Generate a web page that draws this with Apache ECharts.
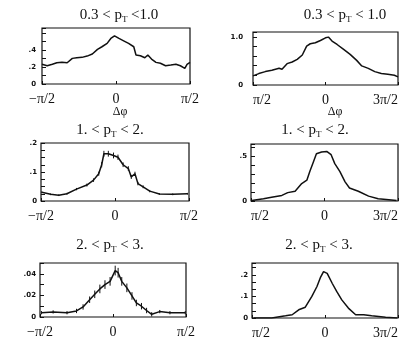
<!DOCTYPE html>
<html>
<head>
<meta charset="utf-8">
<script src="https://cdn.jsdelivr.net/npm/echarts@6/dist/echarts.min.js"></script>
<style>
html, body { margin: 0; background: #fff; }
#main { width: 415px; height: 346px; }
</style>
</head>
<body>
<div id="main"></div>
<script>
// x positions are in units of pi/2 (-1 .. 1)
var x1 = [-1.0, -0.93, -0.86, -0.80, -0.73, -0.66, -0.59, -0.53, -0.46, -0.39, -0.32, -0.25, -0.19, -0.12, -0.07, -0.02, 0.04, 0.11, 0.17, 0.24, 0.27, 0.33, 0.39, 0.43, 0.48, 0.54, 0.60, 0.67, 0.74, 0.81, 0.87, 0.93, 0.96, 1.0];
var y1 = [0.232, 0.215, 0.232, 0.25, 0.255, 0.25, 0.302, 0.309, 0.314, 0.329, 0.353, 0.408, 0.439, 0.479, 0.537, 0.568, 0.537, 0.506, 0.479, 0.439, 0.341, 0.333, 0.309, 0.341, 0.294, 0.255, 0.244, 0.215, 0.223, 0.232, 0.215, 0.185, 0.232, 0.255];

var x2 = [-1.0, -0.92, -0.83, -0.74, -0.64, -0.60, -0.53, -0.46, -0.39, -0.32, -0.26, -0.21, -0.14, -0.07, 0.0, 0.04, 0.09, 0.16, 0.25, 0.34, 0.43, 0.50, 0.59, 0.68, 0.77, 0.86, 0.95, 1.0];
var y2 = [0.19, 0.237, 0.278, 0.305, 0.346, 0.326, 0.443, 0.478, 0.532, 0.623, 0.808, 0.856, 0.876, 0.924, 0.979, 0.994, 0.911, 0.841, 0.738, 0.635, 0.511, 0.396, 0.346, 0.278, 0.237, 0.223, 0.202, 0.169];

var x3 = [-0.99, -0.87, -0.76, -0.65, -0.52, -0.38, -0.29, -0.22, -0.18, -0.15, -0.09, -0.02, 0.04, 0.11, 0.18, 0.22, 0.27, 0.31, 0.38, 0.47, 0.60, 0.78, 0.98];
var y3 = [0.030, 0.023, 0.020, 0.025, 0.041, 0.055, 0.072, 0.094, 0.125, 0.163, 0.163, 0.157, 0.151, 0.125, 0.112, 0.083, 0.094, 0.060, 0.049, 0.034, 0.024, 0.023, 0.025];
var e3 = [0.003, 0.003, 0.003, 0.003, 0.004, 0.005, 0.006, 0.007, 0.009, 0.010, 0.010, 0.010, 0.009, 0.008, 0.008, 0.007, 0.007, 0.006, 0.005, 0.004, 0.003, 0.003, 0.003];

var x4 = [-0.99, -0.83, -0.72, -0.58, -0.50, -0.40, -0.31, -0.24, -0.20, -0.15, -0.11, -0.04, 0.03, 0.09, 0.14, 0.21, 0.28, 0.34, 0.46, 0.60, 0.73, 0.84, 0.98];
var y4 = [0.005, 0.025, 0.043, 0.063, 0.094, 0.11, 0.196, 0.234, 0.33, 0.44, 0.53, 0.55, 0.557, 0.52, 0.42, 0.33, 0.215, 0.146, 0.11, 0.055, 0.025, 0.017, 0.005];

var x5 = [-0.98, -0.82, -0.63, -0.50, -0.41, -0.32, -0.25, -0.18, -0.11, -0.04, 0.03, 0.07, 0.12, 0.19, 0.26, 0.32, 0.39, 0.46, 0.53, 0.64, 0.78, 0.99];
var y5 = [0.004, 0.0047, 0.004, 0.0056, 0.0093, 0.016, 0.021, 0.026, 0.030, 0.033, 0.043, 0.041, 0.033, 0.027, 0.0195, 0.013, 0.010, 0.006, 0.0025, 0.005, 0.004, 0.004];
var e5 = [0.0015, 0.0015, 0.0015, 0.002, 0.0025, 0.003, 0.0035, 0.004, 0.004, 0.004, 0.0045, 0.0045, 0.004, 0.004, 0.0035, 0.003, 0.003, 0.0025, 0.002, 0.0015, 0.0015, 0.0015];

var x6 = [-0.98, -0.73, -0.54, -0.45, -0.36, -0.27, -0.18, -0.11, -0.06, -0.02, 0.03, 0.10, 0.16, 0.23, 0.32, 0.42, 0.53, 0.64, 0.83, 0.99];
var y6 = [0, 0, 0.01, 0.015, 0.038, 0.05, 0.10, 0.146, 0.19, 0.215, 0.207, 0.16, 0.123, 0.084, 0.046, 0.015, 0.015, 0.01, 0.003, 0];

var leftTicks = ['\u2212\u03c0/2', '0', '\u03c0/2'];
var rightTicks = ['\u03c0/2', '0', '3\u03c0/2'];
var titles = ['0.3 < p{s|T} <1.0', '0.3 < p{s|T} < 1.0', '1. < p{s|T} < 2.', '1. < p{s|T} < 2.', '2. < p{s|T} < 3.', '2. < p{s|T} < 3.'];

var panels = [
  { g: [42, 28, 148, 56], xs: x1, ys: y1, max: 0.66, step: 0.2, minor: 2, lab: [0, 0.2, 0.4], ticks: leftTicks, t: [119, 15], m: 6 },
  { g: [253, 32, 145, 53], xs: x2, ys: y2, max: 1.1, step: 0.2, minor: 1, lab: [0, 1], ticks: rightTicks, t: [345, 15], m: 10, right: true },
  { g: [41, 143, 148, 58], xs: x3, ys: y3, max: 0.2, step: 0.1, minor: 4, lab: [0, 0.1, 0.2], ticks: leftTicks, t: [110, 130], m: 4, err: e3 },
  { g: [251, 144, 147, 57], xs: x4, ys: y4, max: 0.64, step: 0.1, minor: 1, lab: [0, 0.5], ticks: rightTicks, t: [315, 130], m: 4, right: true },
  { g: [40, 263, 146, 54], xs: x5, ys: y5, max: 0.05, step: 0.02, minor: 2, lab: [0, 0.02, 0.04], ticks: leftTicks, t: [110, 245], m: 4, err: e5 },
  { g: [252, 263, 146, 55], xs: x6, ys: y6, max: 0.255, step: 0.1, minor: 3, lab: [0, 0.1, 0.2], ticks: rightTicks, t: [319, 245], m: 4, right: true }
];

function fmtY(v, lab) {
  for (var i = 0; i < lab.length; i++) {
    if (Math.abs(v - lab[i]) < 1e-9) {
      if (lab[i] === 0) return '0';
      if (lab[i] === 1) return '1.0';
      return String(lab[i]).replace(/^0/, '');
    }
  }
  return '';
}

var serif = '"Liberation Serif", "DejaVu Serif", serif';
var grid = [], xAxis = [], yAxis = [], series = [], graphic = [];

panels.forEach(function (p, i) {
  grid.push({ left: p.g[0], top: p.g[1], width: p.g[2], height: p.g[3], show: true, borderColor: '#111', borderWidth: 1.2 });
  xAxis.push({
    type: 'value', gridIndex: i, min: -1, max: 1, interval: 1,
    axisLine: { show: false, onZero: false }, splitLine: { show: false },
    axisTick: { inside: true, length: 3, lineStyle: { color: '#111' } },
    axisLabel: {
      color: '#111', fontFamily: serif, fontSize: 14, margin: 8,
      alignMinLabel: p.right ? 'left' : 'center', alignMaxLabel: p.right ? 'right' : 'center',
      formatter: (function (tk) { return function (v) { return tk[Math.round(v) + 1]; }; })(p.ticks)
    }
  });
  yAxis.push({
    type: 'value', gridIndex: i, min: 0, max: p.max, interval: p.step,
    axisLine: { show: false, onZero: false }, splitLine: { show: false },
    axisTick: { inside: true, length: 4, lineStyle: { color: '#111' } },
    minorTick: { show: p.minor > 1, splitNumber: p.minor, length: 4, lineStyle: { color: '#111' } },
    axisLabel: {
      color: '#111', fontFamily: 'DejaVu Sans', fontWeight: 'bold', fontSize: 7, margin: p.m,
      formatter: (function (lab) { return function (v) { return fmtY(v, lab); }; })(p.lab)
    }
  });
  series.push({
    type: 'line', xAxisIndex: i, yAxisIndex: i, showSymbol: false,
    lineStyle: { color: '#111', width: 1.5 },
    data: p.xs.map(function (x, k) { return [x, p.ys[k]]; })
  });
  if (p.err) {
    series.push({
      type: 'custom', xAxisIndex: i, yAxisIndex: i,
      data: p.xs.map(function (x, k) { return [x, p.ys[k], p.err[k]]; }),
      renderItem: function (params, api) {
        var a = api.coord([api.value(0), api.value(1) - api.value(2)]);
        var b = api.coord([api.value(0), api.value(1) + api.value(2)]);
        return { type: 'line', shape: { x1: a[0], y1: a[1], x2: b[0], y2: b[1] }, style: { stroke: '#111', lineWidth: 1 } };
      }
    });
  }
  graphic.push({
    type: 'text', x: p.t[0], y: p.t[1],
    style: {
      text: titles[i], fill: '#111', font: '15px ' + serif, align: 'center', verticalAlign: 'middle',
      rich: { s: { fontSize: 9, fontFamily: serif, fill: '#111', padding: [9, 0, 0, 0] } }
    }
  });
});

graphic.push({ type: 'text', x: 120, y: 112, style: { text: '\u0394\u03c6', fill: '#111', font: '12px ' + serif, align: 'center', verticalAlign: 'middle' } });
graphic.push({ type: 'text', x: 335, y: 112, style: { text: '\u0394\u03c6', fill: '#111', font: '12px ' + serif, align: 'center', verticalAlign: 'middle' } });

var chart = echarts.init(document.getElementById('main'));
chart.setOption({
  animation: false,
  backgroundColor: '#fff',
  grid: grid, xAxis: xAxis, yAxis: yAxis, series: series, graphic: graphic
});
</script>
</body>
</html>
